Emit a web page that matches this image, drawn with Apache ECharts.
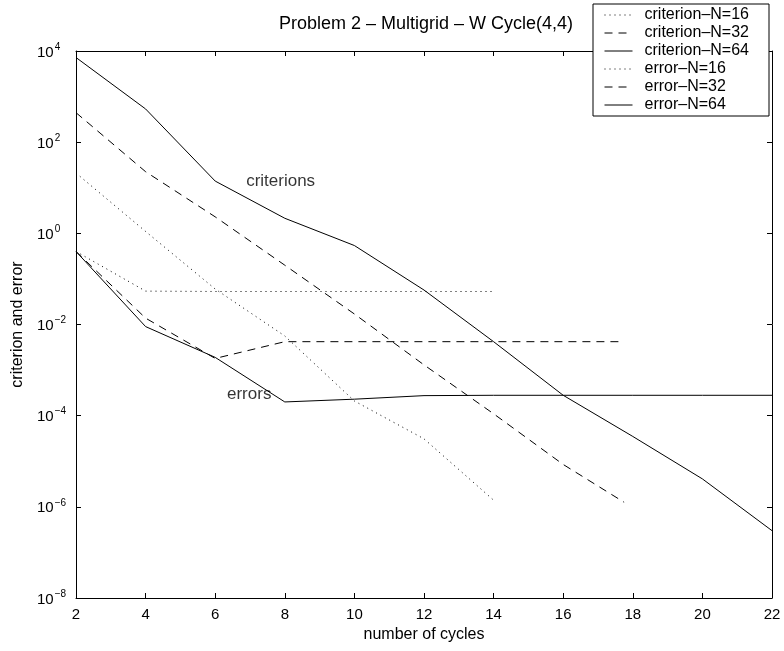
<!DOCTYPE html>
<html>
<head>
<meta charset="utf-8">
<script src="https://cdn.jsdelivr.net/npm/echarts@6/dist/echarts.min.js"></script>
<style>
html,body{margin:0;padding:0;background:#fff;}
#chart{width:784px;height:651px;}
</style>
</head>
<body>
<div id="chart"></div>
<script>
// ---- data ----
const cyclesN16 = [2, 4, 6, 8, 10, 12, 14];
const cyclesN32 = [2, 4, 6, 8, 10, 12, 14, 16, 17.75];
const cyclesN64 = [2, 4, 6, 8, 10, 12, 14, 16, 18, 20, 22];

const criterionN16 = [21, 1.1, 0.06, 5.6e-3, 2.1e-4, 3.1e-5, 1.4e-6];
const criterionN32 = [444, 22.5, 2.3, 0.2, 0.017, 1.3e-3, 1.1e-4, 8.5e-6, 1.26e-6];
const criterionN64 = [7200, 535, 14, 2.14, 0.54, 0.057, 4.2e-3, 2.8e-4, 3.5e-5, 4.1e-6, 3.0e-7];

const errorN16 = [0.4, 0.054, 0.053, 0.053, 0.053, 0.053, 0.053];
const errorN32 = [0.4, 0.0138, 1.8e-3, 4.2e-3, 4.2e-3, 4.2e-3, 4.2e-3, 4.2e-3, 4.2e-3];
const errorN64 = [0.4, 9.0e-3, 1.9e-3, 2.0e-4, 2.3e-4, 2.75e-4, 2.8e-4, 2.8e-4, 2.8e-4, 2.8e-4, 2.8e-4];

const seriesNames = ['criterion–N=16', 'criterion–N=32', 'criterion–N=64', 'error–N=16', 'error–N=32', 'error–N=64'];
const titleText = 'Problem 2 – Multigrid – W Cycle(4,4)';
const xAxisName = 'number of cycles';
const yAxisName = 'criterion and error';
const annotationTexts = ['criterions', 'errors'];
const annotationX = [6.86, 6.31];
const annotationY = [14, 3.0e-4];

// ---- chart ----
const FONT = '"Liberation Sans", Arial, Helvetica, sans-serif';
const pair = (xs, ys) => xs.map((x, i) => [x, ys[i]]);
const DOTTED = [1, 4];
const DASHED = [8, 6];

function lineSeries(name, xs, ys, type) {
  return {
    name: name,
    type: 'line',
    data: pair(xs, ys),
    symbol: 'none',
    showSymbol: false,
    animation: false,
    lineStyle: { color: '#000', width: 1, type: type },
    itemStyle: { color: '#000' }
  };
}

const chart = echarts.init(document.getElementById('chart'));

const supFormatter = function (v) {
  const e = Math.round(Math.log10(v));
  const es = e < 0 ? '−' + (-e) : String(e);
  return '{b|10}{e|' + es + '}';
};

const axisCommon = {
  axisLine: { show: true, onZero: false, lineStyle: { color: '#000', width: 1 } },
  axisTick: { show: true, inside: true, length: 5, lineStyle: { color: '#000' } },
  splitLine: { show: false },
  minorTick: { show: false }
};

chart.setOption({
  animation: false,
  backgroundColor: '#fff',
  textStyle: { fontFamily: FONT },
  title: {
    text: titleText,
    left: 274,
    top: 10,
    textStyle: { fontFamily: FONT, fontSize: 18, fontWeight: 'normal', color: '#000' }
  },
  legend: {
    data: seriesNames,
    orient: 'vertical',
    left: 593,
    top: 4,
    padding: [2, 20, 2, 11],
    itemWidth: 28,
    itemHeight: 14,
    itemGap: 0,
    backgroundColor: '#fff',
    borderColor: '#000',
    borderWidth: 1,
    borderRadius: 0,
    itemStyle: { opacity: 0, borderWidth: 0 },
    lineStyle: { width: 1 },
    textStyle: { fontFamily: FONT, fontSize: 16, lineHeight: 18, color: '#000', padding: [0, 0, 0, 7] }
  },
  grid: { left: 76, right: 12, top: 51, bottom: 53, containLabel: false },
  xAxis: [
    Object.assign({}, axisCommon, {
      type: 'value', min: 2, max: 22, interval: 2, position: 'bottom',
      name: xAxisName, nameLocation: 'middle', nameGap: 27,
      nameTextStyle: { fontFamily: FONT, fontSize: 16, color: '#000' },
      axisLabel: { fontFamily: FONT, fontSize: 15, color: '#000', margin: 9 }
    }),
    Object.assign({}, axisCommon, {
      type: 'value', min: 2, max: 22, interval: 2, position: 'top',
      axisLabel: { show: false }
    })
  ],
  yAxis: [
    Object.assign({}, axisCommon, {
      type: 'log', logBase: 10, min: 1e-8, max: 1e4, interval: 2, position: 'left',
      name: yAxisName, nameLocation: 'middle', nameGap: 50, nameRotate: 90,
      nameTextStyle: { fontFamily: FONT, fontSize: 16, color: '#000' },
      axisLabel: {
        formatter: supFormatter, align: 'left', margin: 39,
        rich: {
          b: { fontFamily: FONT, fontSize: 15, color: '#000', lineHeight: 18, verticalAlign: 'bottom' },
          e: { fontFamily: FONT, fontSize: 10, color: '#000', lineHeight: 18, verticalAlign: 'top', padding: [0, 0, 0, 1] }
        }
      }
    }),
    Object.assign({}, axisCommon, {
      type: 'log', logBase: 10, min: 1e-8, max: 1e4, interval: 2, position: 'right',
      axisLabel: { show: false }
    })
  ],
  series: [
    lineSeries(seriesNames[0], cyclesN16, criterionN16, DOTTED),
    lineSeries(seriesNames[1], cyclesN32, criterionN32, DASHED),
    lineSeries(seriesNames[2], cyclesN64, criterionN64, 'solid'),
    lineSeries(seriesNames[3], cyclesN16, errorN16, DOTTED),
    lineSeries(seriesNames[4], cyclesN32, errorN32, DASHED),
    lineSeries(seriesNames[5], cyclesN64, errorN64, 'solid'),
    {
      name: 'annotations',
      type: 'scatter',
      symbol: 'circle',
      symbolSize: 2,
      itemStyle: { color: 'rgba(0,0,0,0)' },
      silent: true,
      z: 10,
      data: annotationTexts.map((t, i) => ({ value: [annotationX[i], annotationY[i]], name: t })),
      label: {
        show: true, position: 'right', distance: 0,
        formatter: p => p.name,
        fontFamily: FONT, fontSize: 17, color: '#000'
      }
    }
  ]
});
</script>
</body>
</html>
